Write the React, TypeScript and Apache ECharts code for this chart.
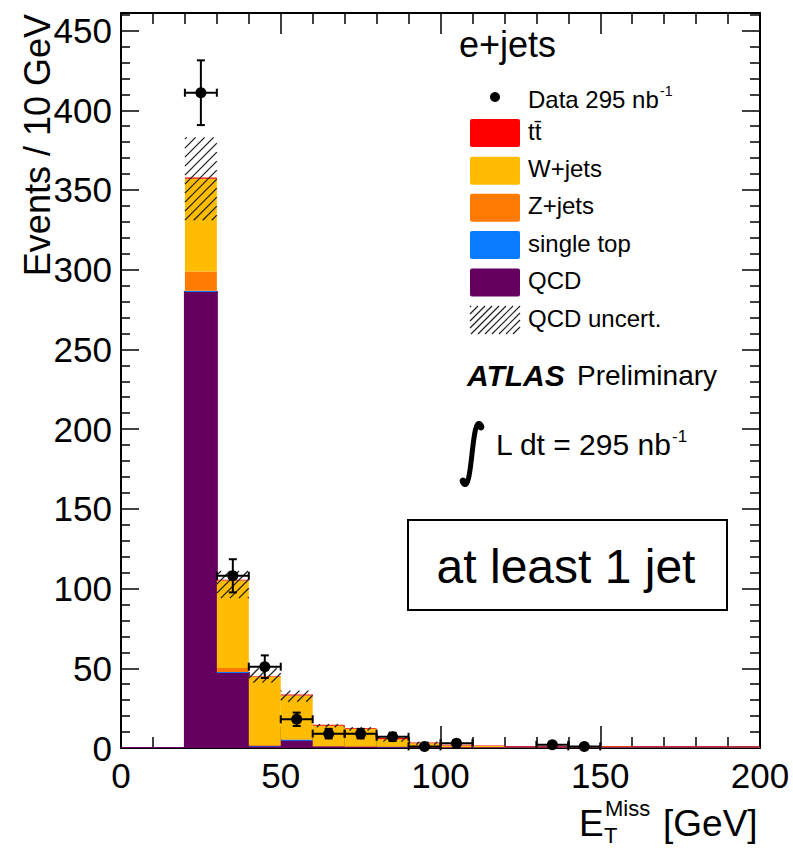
import React, { useEffect, useRef } from 'react';
import * as echarts from 'echarts';

// ---------- data ----------
const binLow = [0, 10, 20, 30, 40, 50, 60, 70, 80, 90, 100, 110, 120, 130, 140, 150, 160, 170, 180, 190];
const binHigh = [10, 20, 30, 40, 50, 60, 70, 80, 90, 100, 110, 120, 130, 140, 150, 160, 170, 180, 190, 200];

const qcd = [0, 0, 286, 47, 1, 4.5, 0.8, 0.6, 0.5, 0.4, 0.4, 0.4, 0.4, 0.4, 0.4, 0.4, 0.4, 0.4, 0.4, 0.4];
const singleTop = [0, 0, 0.8, 0.6, 0.2, 0.6, 0.1, 0.1, 0.1, 0.1, 0, 0, 0, 0, 0, 0, 0, 0, 0, 0];
const zJets = [0, 0, 12, 2.5, 0.5, 0.3, 0.3, 0.2, 0.2, 0.1, 0.1, 0.1, 0, 0, 0, 0, 0, 0, 0, 0];
const wJets = [0, 0, 58.2, 55, 43.2, 27.6, 12.8, 11.1, 4.7, 2.4, 1.0, 0.7, 0.3, 0.3, 0.3, 0.5, 0.2, 0.2, 0.2, 0.2];
const ttbar = [0, 0, 0.8, 0.4, 0.3, 0.5, 0.6, 0.5, 0.8, 0.5, 0.5, 0.4, 0.3, 0.3, 0.3, 0.3, 0.3, 0.3, 0.3, 0.3];

const uncLow: (number | null)[] = [null, null, 331, 94, 41, 29, 13, 11, 4, 2, null, null, null, null, null, null, null, null, null, null];
const uncHigh: (number | null)[] = [null, null, 383, 111, 50, 36, 15, 13, 7, 4, null, null, null, null, null, null, null, null, null, null];

const dataCounts: (number | null)[] = [null, null, 411, 108, 51, 18, 9, 9, 7, 1, 3, null, null, 2, 1, null, null, null, null, null];
const dataErr = [0, 0, 20.3, 10.4, 7.1, 4.2, 3, 3, 2.6, 1, 1.7, 0, 0, 1.4, 1, 0, 0, 0, 0, 0];

const xTickLabels = [0, 50, 100, 150, 200];
const yTickLabels = [0, 50, 100, 150, 200, 250, 300, 350, 400, 450];

const FONT = "'Liberation Sans', Arial, Helvetica, sans-serif";

const components = [
  { name: 'QCD', values: qcd, color: '#65005F' },
  { name: 'single top', values: singleTop, color: '#0A7AFF' },
  { name: 'Z+jets', values: zJets, color: '#FF7A00' },
  { name: 'W+jets', values: wJets, color: '#FFBC00' },
  { name: 't t\u0304', values: ttbar, color: '#FF0000' },
];

const legendRows = [
  { label: 't' + 't\u0304', color: '#FF0000', y: 133 },
  { label: 'W+jets', color: '#FFBC00', y: 170.7 },
  { label: 'Z+jets', color: '#FF7A00', y: 207.8 },
  { label: 'single top', color: '#0A7AFF', y: 245 },
  { label: 'QCD', color: '#65005F', y: 282.5 },
];

function hatchSegments(x0: number, y0: number, x1: number, y1: number, s: number) {
  const segs: number[][] = [];
  const cStart = Math.ceil((x0 + y0) / s) * s;
  for (let c = cStart; c <= x1 + y1; c += s) {
    const xa = Math.max(x0, c - y1);
    const xb = Math.min(x1, c - y0);
    if (xb - xa > 0.5) segs.push([xa, c - xa, xb, c - xb]);
  }
  return segs;
}

export default function App() {
  const ref = useRef<HTMLDivElement>(null);

  useEffect(() => {
    if (!ref.current) return;
    const chart = echarts.init(ref.current, undefined, { renderer: 'svg' });

    let base = binLow.map(() => 0);
    const stackSeries = components.map((c) => {
      const data = binLow.map((lo, i) => [lo, binHigh[i], base[i], base[i] + c.values[i]]);
      base = base.map((b, i) => b + c.values[i]);
      const isQcd = c.name === 'QCD';
      return {
        type: 'custom',
        name: c.name,
        data,
        encode: { x: [0, 1], y: [2, 3] },
        clip: true,
        z: 2,
        renderItem: (_p: any, api: any) => {
          const p0 = api.coord([api.value(0), api.value(3)]);
          const p1 = api.coord([api.value(1), api.value(2)]);
          return {
            type: 'rect',
            shape: { x: p0[0], y: p0[1], width: p1[0] - p0[0], height: p1[1] - p0[1] },
            style: isQcd
              ? { fill: c.color, stroke: c.color, lineWidth: 2 }
              : { fill: c.color },
          };
        },
      };
    });

    const hatchData = binLow
      .map((lo, i) => (uncLow[i] == null ? null : [lo, binHigh[i], uncLow[i], uncHigh[i]]))
      .filter((d) => d != null);

    const hatchSeries = {
      type: 'custom',
      name: 'QCD uncert.',
      data: hatchData,
      encode: { x: [0, 1], y: [2, 3] },
      clip: true,
      z: 3,
      renderItem: (_p: any, api: any) => {
        const a = api.coord([api.value(0), api.value(3)]);
        const b = api.coord([api.value(1), api.value(2)]);
        const segs = hatchSegments(a[0], a[1], b[0], b[1], 9);
        return {
          type: 'group',
          children: segs.map((s) => ({
            type: 'line',
            shape: { x1: s[0], y1: s[1], x2: s[2], y2: s[3] },
            style: { stroke: '#222', lineWidth: 1.3 },
          })),
        };
      },
    };

    const pointData = binLow
      .map((lo, i) => (dataCounts[i] == null ? null : [lo, binHigh[i], dataCounts[i], dataErr[i]]))
      .filter((d) => d != null);

    const dataSeries = {
      type: 'custom',
      name: 'Data 295 nb-1',
      data: pointData,
      encode: { x: [0, 1], y: 2 },
      clip: false,
      z: 5,
      renderItem: (_p: any, api: any) => {
        const lo = api.value(0);
        const hi = api.value(1);
        const v = api.value(2);
        const e = api.value(3);
        const mid = (lo + hi) / 2;
        const c = api.coord([mid, v]);
        const l = api.coord([lo, v]);
        const r = api.coord([hi, v]);
        const t = api.coord([mid, v + e]);
        const bt = api.coord([mid, Math.max(0, v - e)]);
        const st = { stroke: '#000', lineWidth: 2 };
        const cap = 4;
        return {
          type: 'group',
          children: [
            { type: 'line', shape: { x1: l[0], y1: l[1], x2: r[0], y2: r[1] }, style: st },
            { type: 'line', shape: { x1: l[0], y1: l[1] - cap, x2: l[0], y2: l[1] + cap }, style: st },
            { type: 'line', shape: { x1: r[0], y1: r[1] - cap, x2: r[0], y2: r[1] + cap }, style: st },
            { type: 'line', shape: { x1: t[0], y1: t[1], x2: bt[0], y2: bt[1] }, style: st },
            { type: 'line', shape: { x1: t[0] - cap, y1: t[1], x2: t[0] + cap, y2: t[1] }, style: st },
            { type: 'line', shape: { x1: bt[0] - cap, y1: bt[1], x2: bt[0] + cap, y2: bt[1] }, style: st },
            { type: 'circle', shape: { cx: c[0], cy: c[1], r: 5.5 }, style: { fill: '#000' } },
          ],
        };
      },
    };

    const txt = (text: string, x: number, y: number, fontSize: number, extra: any = {}) => ({
      type: 'text',
      x,
      y,
      z: 50,
      style: {
        text,
        fill: '#000',
        fontSize,
        fontFamily: FONT,
        align: 'left',
        verticalAlign: 'middle',
        ...extra,
      },
    });

    const hatchLegend = hatchSegments(470, 306, 520, 334, 7).map((s) => ({
      type: 'line',
      z: 50,
      shape: { x1: s[0], y1: s[1], x2: s[2], y2: s[3] },
      style: { stroke: '#222', lineWidth: 1.2 },
    }));

    const graphic: any[] = [
      // y-axis title
      {
        type: 'text',
        x: 37,
        y: 14,
        rotation: Math.PI / 2,
        z: 50,
        style: { text: 'Events / 10 GeV', fill: '#000', fontSize: 36, fontFamily: FONT, align: 'right', verticalAlign: 'middle' },
      },
      // x-axis title
      txt('E', 579, 823.7, 37),
      txt('T', 604, 835, 22),
      txt('Miss', 605, 808, 22),
      txt('[GeV]', 663, 823.7, 37),
      // legend
      txt('e+jets', 459, 44, 36),
      { type: 'circle', z: 50, shape: { cx: 495, cy: 97, r: 5 }, style: { fill: '#000' } },
      txt('Data 295 nb', 528, 99, 24),
      txt('-1', 660, 91, 14),
      ...legendRows.flatMap((r) => [
        { type: 'rect', z: 50, shape: { x: 470, y: r.y - 14, width: 50, height: 28, r: 2 }, style: { fill: r.color } },
        txt(r.label, 528, r.y - 2, 24),
      ]),
      ...hatchLegend,
      txt('QCD uncert.', 528, 318, 24),
      // ATLAS label
      txt('ATLAS', 467, 375, 30, { fontWeight: 'bold', fontStyle: 'italic' }),
      txt('Preliminary', 577, 375, 28),
      // integral sign
      {
        type: 'bezierCurve',
        z: 50,
        shape: { x1: 481, y1: 425, cpx1: 471, cpy1: 411, cpx2: 473, cpy2: 497, x2: 463, y2: 483 },
        style: { stroke: '#000', lineWidth: 5, fill: 'none', lineCap: 'round' },
      },
      { type: 'circle', z: 50, shape: { cx: 481, cy: 427, r: 3.4 }, style: { fill: '#000' } },
      { type: 'circle', z: 50, shape: { cx: 463, cy: 481, r: 3.4 }, style: { fill: '#000' } },
      txt('L dt = 295 nb', 496, 444, 30),
      txt('-1', 672, 436, 17),
      // box
      { type: 'rect', z: 50, shape: { x: 408, y: 520, width: 319, height: 90 }, style: { fill: 'none', stroke: '#000', lineWidth: 2 } },
      txt('at least 1 jet', 566, 566, 48, { align: 'center' }),
    ];

    const axisCommon = {
      axisLine: { show: true, onZero: false, lineStyle: { color: '#000', width: 2 } },
      splitLine: { show: false },
    };

    const option: any = {
      animation: false,
      backgroundColor: '#fff',
      textStyle: { fontFamily: FONT },
      grid: { left: 121, top: 13, width: 639, height: 735, containLabel: false },
      xAxis: [
        {
          type: 'value',
          min: 0,
          max: 200,
          interval: 50,
          position: 'bottom',
          ...axisCommon,
          axisTick: { show: true, inside: true, length: 22, lineStyle: { color: '#000', width: 1.5 } },
          minorTick: { show: true, splitNumber: 5, length: 11, lineStyle: { color: '#000', width: 1.5 } },
          axisLabel: {
            show: true,
            margin: 10,
            fontSize: 35,
            color: '#000',
            fontFamily: FONT,
            formatter: (v: number) => (xTickLabels.includes(v) ? String(v) : ''),
          },
        },
        {
          type: 'value',
          min: 0,
          max: 200,
          interval: 50,
          position: 'top',
          ...axisCommon,
          axisTick: { show: true, inside: true, length: 21, lineStyle: { color: '#000', width: 1.5 } },
          minorTick: { show: true, splitNumber: 5, length: 11, lineStyle: { color: '#000', width: 1.5 } },
          axisLabel: { show: false },
        },
      ],
      yAxis: [
        {
          type: 'value',
          min: 0,
          max: 461,
          interval: 50,
          position: 'left',
          ...axisCommon,
          axisTick: { show: true, inside: true, length: 18, lineStyle: { color: '#000', width: 1.5 } },
          minorTick: { show: true, splitNumber: 5, length: 9, lineStyle: { color: '#000', width: 1.5 } },
          axisLabel: {
            show: true,
            margin: 9,
            fontSize: 35,
            color: '#000',
            fontFamily: FONT,
            formatter: (v: number) => (yTickLabels.includes(v) ? String(v) : ''),
          },
        },
        {
          type: 'value',
          min: 0,
          max: 461,
          interval: 50,
          position: 'right',
          ...axisCommon,
          axisTick: { show: true, inside: true, length: 18, lineStyle: { color: '#000', width: 1.5 } },
          minorTick: { show: true, splitNumber: 5, length: 10, lineStyle: { color: '#000', width: 1.5 } },
          axisLabel: { show: false },
        },
      ],
      series: [...stackSeries, hatchSeries, dataSeries],
      graphic,
    };

    chart.setOption(option);
    return () => chart.dispose();
  }, []);

  return (
    <div
      ref={ref}
      style={{ position: 'fixed', left: 0, top: 0, width: 793, height: 848, background: '#fff' }}
    />
  );
}
